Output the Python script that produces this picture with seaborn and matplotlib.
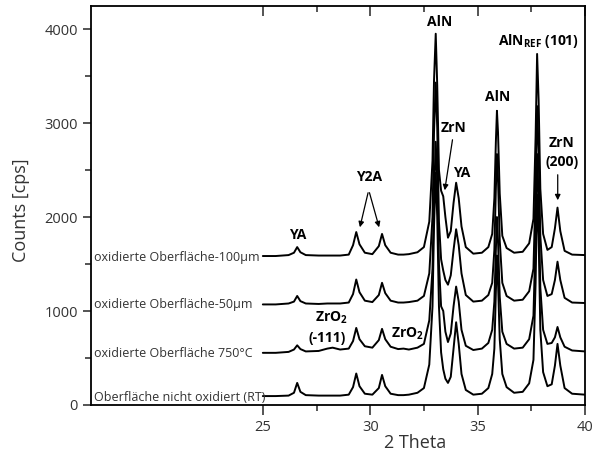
import numpy as np
import pandas as pd
import matplotlib
matplotlib.use("Agg")
import matplotlib.pyplot as plt
import seaborn as sns

# ---------------- data ----------------
two_theta = [
    25.0, 25.6, 26.2, 26.45, 26.6, 26.75, 27.0, 27.6, 28.0, 28.25,
    28.6, 29.0, 29.2, 29.35, 29.5, 29.75, 30.1, 30.4, 30.55, 30.7,
    30.95, 31.3, 31.55, 31.8, 32.2, 32.5, 32.75, 32.9, 32.97, 33.05,
    33.12, 33.2, 33.3, 33.4, 33.5, 33.62, 33.75, 33.88, 34.0, 34.12,
    34.25, 34.45, 34.8, 35.2, 35.5, 35.68, 35.78, 35.85, 35.9, 35.95,
    36.03, 36.15, 36.35, 36.7, 37.1, 37.4, 37.6, 37.7, 37.77, 37.84,
    37.92, 38.05, 38.25, 38.45, 38.6, 38.72, 38.85, 39.05, 39.4, 40.0,
]

counts_rt = [
    95, 95, 100, 130, 235, 140, 105, 100, 100, 100,
    100, 110, 190, 335, 200, 120, 110, 180, 320, 200,
    120, 105, 105, 110, 130, 180, 430, 1050, 1900, 2470,
    2000, 1050, 560, 380, 280, 235, 300, 600, 880, 650,
    330, 160, 110, 120, 180, 330, 600, 1200, 1590, 1300,
    700, 330, 190, 130, 140, 230, 480, 1300, 2240, 1800,
    800, 350, 200, 220, 420, 650, 420, 180, 120, 110,
]

counts_750 = [
    555, 555, 565, 590, 635, 595, 570, 575, 600, 610,
    590, 600, 680, 820, 700, 625, 610, 690, 810, 700,
    620, 595, 600, 590, 610, 650, 900, 1450, 2200, 2800,
    2400, 1500, 1050, 1000, 780, 670, 760, 1050, 1260, 1100,
    800, 630, 585, 600, 660, 800, 1100, 1650, 2000, 1750,
    1150, 780, 650, 600, 610, 700, 950, 1800, 2670, 2200,
    1250, 800, 650, 660, 720, 830, 720, 620, 580, 570,
]

counts_50 = [
    1070, 1070, 1080, 1100, 1160, 1105, 1080, 1075, 1080, 1080,
    1080, 1090, 1180, 1335, 1200, 1110, 1095, 1170, 1300, 1190,
    1110, 1090, 1090, 1095, 1110, 1160, 1400, 2000, 2900, 3430,
    2950, 1950, 1550, 1430, 1330, 1280, 1380, 1650, 1870, 1700,
    1400, 1170, 1100, 1110, 1170, 1300, 1650, 2300, 2670, 2400,
    1750, 1300, 1160, 1110, 1120, 1210, 1450, 2300, 3180, 2700,
    1800, 1330, 1160, 1180, 1330, 1525, 1330, 1140, 1090, 1085,
]

counts_100 = [
    1585, 1585, 1595, 1620, 1680, 1625, 1595, 1590, 1590, 1590,
    1590, 1600, 1700, 1840, 1710, 1620, 1605, 1690, 1820, 1700,
    1620, 1600, 1600, 1605, 1625, 1680, 1950, 2600, 3450, 3950,
    3400, 2500, 2280, 2220, 2000, 1780, 1850, 2150, 2365, 2200,
    1900, 1680, 1610, 1620, 1680, 1820, 2200, 2800, 3130, 2900,
    2250, 1800, 1670, 1620, 1630, 1720, 1980, 2850, 3735, 3250,
    2300, 1820, 1650, 1680, 1880, 2100, 1850, 1640, 1600, 1595,
]

sample_names = [
    "Oberfläche nicht oxidiert (RT)",
    "oxidierte Oberfläche 750°C",
    "oxidierte Oberfläche-50µm",
    "oxidierte Oberfläche-100µm",
]
x_ticks = [25, 30, 35, 40]
x_minor = [27.5, 32.5, 37.5]
y_ticks = [0, 1000, 2000, 3000, 4000]
y_minor = [500, 1500, 2500, 3500]

# ---------------- style ----------------
sns.set_style("ticks")
plt.rcParams["font.family"] = ["Open Sans", "DejaVu Sans"]
plt.rcParams["mathtext.fontset"] = "custom"
plt.rcParams["mathtext.rm"] = "Open Sans"
plt.rcParams["mathtext.bf"] = "Open Sans:bold"
plt.rcParams["mathtext.it"] = "Open Sans:italic"

all_series = [counts_rt, counts_750, counts_50, counts_100]
frames = []
for name, vals in zip(sample_names, all_series):
    frames.append(pd.DataFrame({"theta": two_theta, "counts": vals, "sample": name}))
df = pd.concat(frames, ignore_index=True)

fig = plt.figure(figsize=(5.93, 4.57), dpi=100)
ax = fig.add_axes([91 / 593, 1 - 405 / 457, 494 / 593, 399 / 457])

sns.lineplot(data=df, x="theta", y="counts", units="sample", estimator=None,
             color="black", lw=1.4, sort=False, ax=ax, legend=False)

ax.set_xlim(17, 40)
ax.set_ylim(0, 4245)
ax.set_xticks(x_ticks)
ax.set_xticks(x_minor, minor=True)
ax.set_yticks(y_ticks)
ax.set_yticks(y_minor, minor=True)
ax.set_xlabel("")
ax.set_ylabel("")

for s in ax.spines.values():
    s.set_linewidth(1.3)
    s.set_color("black")
ax.tick_params(axis="x", which="both", bottom=True, top=True, direction="out",
               labelsize=10.5, labelcolor="#333333", width=1.1)
ax.tick_params(axis="x", which="major", length=7)
ax.tick_params(axis="x", which="minor", length=4)
ax.tick_params(axis="y", which="both", left=True, right=False, direction="out",
               labelsize=10.5, labelcolor="#333333", width=1.1)
ax.tick_params(axis="y", which="major", length=6)
ax.tick_params(axis="y", which="minor", length=4)
# top ticks point inward
for t in ax.xaxis.get_major_ticks() + ax.xaxis.get_minor_ticks():
    t.tick2line.set_marker(matplotlib.lines.TICKDOWN)

fig.text(21 / 593, 1 - 210 / 457, "Counts [cps]", rotation=90, ha="center",
         va="center", fontsize=13, color="#333333")
fig.text(415 / 593, 1 - 443 / 457, "2 Theta", ha="center", va="center",
         fontsize=13, color="#333333")

# curve labels
label_y = [75, 553, 1064, 1564]
for name, yy in zip(sample_names, label_y):
    ax.text(17.15, yy, name, ha="left", va="center", fontsize=9, color="#333333")

# peak annotations
bold = dict(fontweight="bold", fontsize=10, color="black", ha="center", va="center")
ax.text(33.22, 4075, "AlN", **bold)
ax.text(35.93, 3277, "AlN", **bold)
ax.text(37.84, 3870, r"AlN$_{\mathbf{REF}}$ (101)", **bold)
ax.text(33.89, 2947, "ZrN", **bold)
ax.text(34.27, 2468, "YA", **bold)
ax.text(38.92, 2787, "ZrN", **bold)
ax.text(38.93, 2585, "(200)", **bold)
ax.text(29.96, 2426, "Y2A", **bold)
ax.text(26.63, 1809, "YA", **bold)
ax.text(28.2, 926, r"ZrO$_{\mathbf{2}}$", **bold)
ax.text(28.0, 713, "(-111)", **bold)
ax.text(31.71, 755, r"ZrO$_{\mathbf{2}}$", **bold)

arrow = dict(arrowstyle="-|>", color="black", lw=0.9, mutation_scale=8)
ax.annotate("", xy=(33.45, 2255), xytext=(33.85, 2851), arrowprops=arrow)
ax.annotate("", xy=(38.73, 2149), xytext=(38.73, 2479), arrowprops=arrow)
ax.annotate("", xy=(29.49, 1862), xytext=(29.93, 2287), arrowprops=arrow)
ax.annotate("", xy=(30.45, 1862), xytext=(29.93, 2287), arrowprops=arrow)

fig.savefig("out.png", dpi=100)
